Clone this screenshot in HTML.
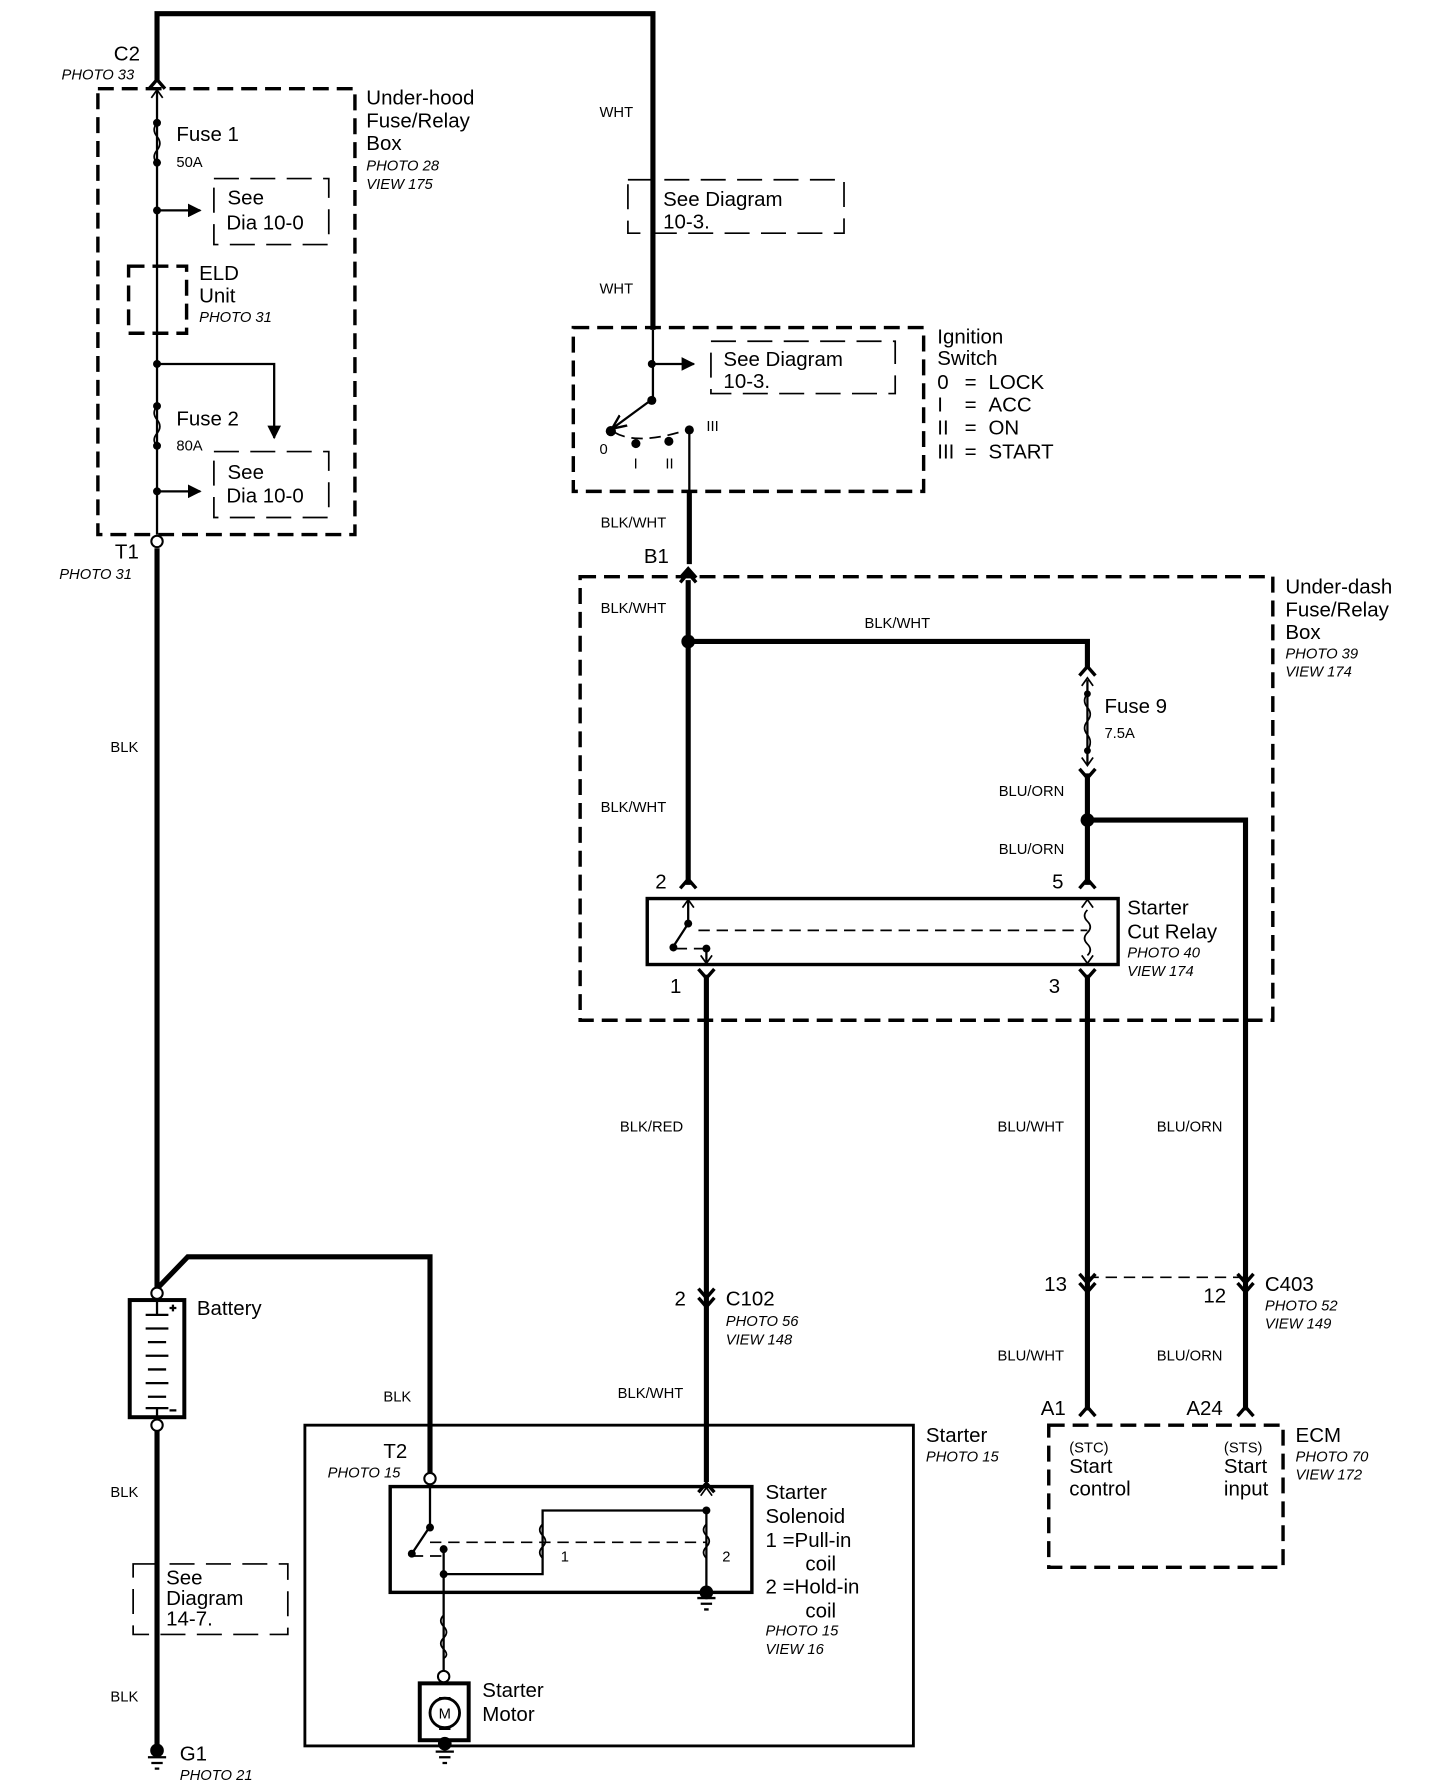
<!DOCTYPE html>
<html><head><meta charset="utf-8"><style>
html,body{margin:0;padding:0;background:#fff;}
svg{display:block;}
text{font-family:"Liberation Sans",Arial,sans-serif;fill:#000;}
.L{font-size:18px;}
.S{font-size:13px;}
.I{font-size:13px;font-style:italic;}
</style></head><body>
<svg width="1456" height="1788" viewBox="0 0 1280 1572" xmlns="http://www.w3.org/2000/svg">
<defs>
<marker id="ar" viewBox="0 0 10 10" refX="9" refY="5" markerWidth="6" markerHeight="6" orient="auto"><path d="M0,0L10,5L0,10z"/></marker>
<marker id="oa" viewBox="0 0 10 10" refX="9" refY="5" markerWidth="7" markerHeight="7" orient="auto"><path d="M0,1L9,5L0,9" fill="none" stroke="#000" stroke-width="1.5"/></marker>
</defs>
<g fill="none" stroke="#000">
<g stroke-width="3" stroke-dasharray="14,7">
<rect x="86" y="78" width="226" height="392"/>
<rect x="113" y="234" width="51" height="59"/>
<rect x="504" y="288" width="308" height="144"/>
<rect x="510" y="507" width="609" height="390"/>
<rect x="922" y="1253" width="206" height="125"/>
</g>
<g stroke-width="1.5" stroke-dasharray="22,10">
<rect x="188" y="157" width="101" height="58"/>
<rect x="188" y="397" width="101" height="58"/>
<rect x="552" y="158" width="190" height="47"/>
<rect x="625" y="300" width="162" height="46"/>
<rect x="117" y="1375" width="136" height="62"/>
</g>
<g stroke-width="4.5">
<path d="M138,72 V12 H574 V290"/>
<path d="M138,482 V1133 L165,1105 H378 V1296"/>
<path d="M138,1258 V1535"/>
<path d="M606,432 V496"/>
<path d="M605,510 V778"/>
<path d="M605,564 H956 V588"/>
<path d="M956,680 V778"/>
<path d="M956,721 H1095 V1240"/>
<path d="M621,857 V1303"/>
<path d="M956,857 V1240"/>
</g>
<g stroke-width="2">
<path d="M138,78 V470"/>
<path d="M138,320 H241 V385" marker-end="url(#ar)"/>
<path d="M138,185 H176" marker-end="url(#ar)"/>
<path d="M138,432 H176" marker-end="url(#ar)"/>
<path d="M574,290 V352"/>
<path d="M573,320 H610" marker-end="url(#ar)"/>
<path d="M572,352 L538,377" marker-end="url(#oa)"/>
<path d="M606,378 V432"/>
<path d="M956,598 V672"/>
<path d="M378,1306 V1342 L362,1366"/>
<path d="M390,1362 V1475"/>
<path d="M390,1384 H477 V1328 H621 V1400"/>
<path d="M605,792 V812 L592,832"/>
<path d="M621,832 V848"/>
</g>
<g stroke-width="1.5" stroke-dasharray="10,6">
<path d="M540,380 Q560,392 604,378"/>
<path d="M614,818 H956"/>
<path d="M378,1356 H621"/>
<path d="M362,1368 H390"/>
<path d="M594,834 H621"/>
<path d="M956,1123 H1095"/>
</g>
<g stroke-width="1.5">
<path d="M138,108 q-5,6 0,12 q5,6 0,12 q-5,6 0,11"/>
<path d="M138,357 q-5,6 0,12 q5,6 0,12 q-5,6 0,11"/>
<path d="M956,610 q-5,6 0,12 q5,6 0,12 q-5,6 0,12 q5,6 0,14"/>
<path d="M956,800 q-5,5 0,10 q5,5 0,10 q-5,5 0,10 q5,5 0,10"/>
<path d="M477,1340 q-5,5 0,10 q5,5 0,10 q-5,5 0,10"/>
<path d="M621,1340 q-5,5 0,10 q5,5 0,10 q-5,5 0,10"/>
<path d="M390,1420 q-5,5 0,10 q5,5 0,10 q-5,5 0,10 q5,5 0,8"/>
</g>
<rect x="569" y="790" width="414" height="58" stroke-width="3"/>
<rect x="343" y="1307" width="318" height="93" stroke-width="3"/>
<rect x="268" y="1253" width="535" height="282" stroke-width="2.5"/>
<rect x="114" y="1143" width="48" height="103" stroke-width="3.5"/>
<rect x="369" y="1480" width="43" height="50" stroke-width="3.5"/>
<circle cx="391" cy="1506" r="13" stroke-width="2.5"/>
<g stroke-width="3">
<path d="M131,78 L138,70 L145,78"/>
<path d="M598,508 L605,500 L612,508"/>
<path d="M598,512 L605,504 L612,512"/>
<path d="M598,781 L605,773 L612,781"/>
<path d="M949,781 L956,773 L963,781"/>
<path d="M949,594 L956,586 L963,594"/>
<path d="M614,852 L621,860 L628,852"/>
<path d="M949,852 L956,860 L963,852"/>
<path d="M949,676 L956,684 L963,676"/>
<path d="M614,1133 L621,1141 L628,1133"/>
<path d="M614,1141 L621,1149 L628,1141"/>
<path d="M949,1120 L956,1128 L963,1120"/>
<path d="M949,1128 L956,1136 L963,1128"/>
<path d="M1088,1120 L1095,1128 L1102,1120"/>
<path d="M1088,1128 L1095,1136 L1102,1128"/>
<path d="M949,1245 L956,1237 L963,1245"/>
<path d="M1088,1245 L1095,1237 L1102,1245"/>
<path d="M614,1312 L621,1304 L628,1312"/>
</g>
<g stroke-width="1.5">
<path d="M600,798 L605,791 L610,798"/><path d="M951,798 L956,791 L961,798"/>
<path d="M616,840 L621,847 L626,840"/><path d="M951,840 L956,847 L961,840"/>
<path d="M951,603 L956,596 L961,603"/><path d="M951,666 L956,673 L961,666"/>
<path d="M616,1315 L621,1308 L626,1315"/>
<path d="M133,86 L138,79 L143,86"/>
</g>
<g stroke-width="2">
<path d="M138,1143 V1156 M128,1156 H148 M128,1168 H148 M130,1180 H146 M128,1192 H148 M130,1204 H146 M128,1216 H148 M130,1228 H146 M128,1238 H148 M138,1238 V1246 M149,1150 h6 M152,1147 v6 M149,1240 h6"/>
</g>
<g stroke-width="2">
<path d="M130,1545 H146 M133,1550 H143 M136,1555 H140"/>
<path d="M613,1405 H629 M616,1410 H626 M619,1415 H623"/>
<path d="M383,1540 H399 M386,1545 H396 M389,1550 H393"/>
<path d="M386,1493 h10 M386,1520 h10"/>
</g>
<g fill="#fff" stroke-width="1.8">
<circle cx="138" cy="476" r="5"/>
<circle cx="138" cy="1137" r="5"/>
<circle cx="138" cy="1253" r="5"/>
<circle cx="378" cy="1300" r="5"/>
<circle cx="390" cy="1474" r="5"/>
</g>
</g>
<g fill="#000">
<circle cx="138" cy="108" r="3.5"/><circle cx="138" cy="143" r="3.5"/>
<circle cx="138" cy="185" r="3.5"/><circle cx="138" cy="320" r="3.5"/>
<circle cx="138" cy="357" r="3.5"/><circle cx="138" cy="392" r="3.5"/>
<circle cx="138" cy="432" r="3.5"/>
<circle cx="573" cy="320" r="3.5"/><circle cx="573" cy="352" r="4"/>
<circle cx="537" cy="379" r="4.5"/><circle cx="559" cy="390" r="4"/><circle cx="588" cy="388" r="4"/><circle cx="606" cy="378" r="4"/>
<circle cx="605" cy="564" r="6"/><circle cx="956" cy="721" r="6"/>
<circle cx="956" cy="610" r="3"/><circle cx="956" cy="660" r="3"/>
<circle cx="605" cy="812" r="3.5"/><circle cx="592" cy="833" r="3.5"/><circle cx="621" cy="834" r="3.5"/>
<circle cx="378" cy="1343" r="3.5"/><circle cx="362" cy="1366" r="3.5"/><circle cx="390" cy="1362" r="3.5"/>
<circle cx="390" cy="1384" r="3.5"/><circle cx="621" cy="1328" r="3.5"/>
<circle cx="621" cy="1400" r="6"/><circle cx="138" cy="1539" r="6"/><circle cx="391" cy="1533" r="6"/>
</g>
<text class="L" x="100" y="53">C2</text><text class="I" x="54" y="70">PHOTO 33</text>
<text class="L" x="155" y="124">Fuse 1</text><text class="S" x="155" y="147">50A</text>
<text class="L" x="200" y="180">See</text><text class="L" x="199" y="202">Dia 10-0</text>
<text class="L" x="175" y="246">ELD</text><text class="L" x="175" y="266">Unit</text><text class="I" x="175" y="283">PHOTO 31</text>
<text class="L" x="155" y="374">Fuse 2</text><text class="S" x="155" y="396">80A</text>
<text class="L" x="200" y="421">See</text><text class="L" x="199" y="442">Dia 10-0</text>
<text class="L" x="322" y="92">Under-hood</text><text class="L" x="322" y="112">Fuse/Relay</text><text class="L" x="322" y="132">Box</text>
<text class="I" x="322" y="150">PHOTO 28</text><text class="I" x="322" y="166">VIEW 175</text>
<text class="L" x="101" y="491">T1</text><text class="I" x="52" y="509">PHOTO 31</text>
<text class="S" x="97" y="661">BLK</text>
<text class="S" x="527" y="103">WHT</text><text class="S" x="527" y="258">WHT</text>
<text class="L" x="583" y="181">See Diagram</text><text class="L" x="583" y="201">10-3.</text>
<text class="L" x="636" y="322">See Diagram</text><text class="L" x="636" y="341">10-3.</text>
<text class="S" x="527" y="399">0</text><text class="S" x="557" y="412">I</text><text class="S" x="585" y="412">II</text><text class="S" x="621" y="379">III</text>
<text class="L" x="824" y="302">Ignition</text><text class="L" x="824" y="321">Switch</text>
<text class="L" x="824" y="342">0</text><text class="L" x="848" y="342">=</text><text class="L" x="869" y="342">LOCK</text>
<text class="L" x="824" y="362">I</text><text class="L" x="848" y="362">=</text><text class="L" x="869" y="362">ACC</text>
<text class="L" x="824" y="382">II</text><text class="L" x="848" y="382">=</text><text class="L" x="869" y="382">ON</text>
<text class="L" x="824" y="403">III</text><text class="L" x="848" y="403">=</text><text class="L" x="869" y="403">START</text>
<text class="S" x="528" y="464">BLK/WHT</text><text class="L" x="566" y="495">B1</text>
<text class="S" x="528" y="539">BLK/WHT</text><text class="S" x="760" y="552">BLK/WHT</text>
<text class="S" x="528" y="714">BLK/WHT</text>
<text class="L" x="971" y="627">Fuse 9</text><text class="S" x="971" y="649">7.5A</text>
<text class="S" x="878" y="700">BLU/ORN</text><text class="S" x="878" y="751">BLU/ORN</text>
<text class="L" x="1130" y="522">Under-dash</text><text class="L" x="1130" y="542">Fuse/Relay</text><text class="L" x="1130" y="562">Box</text>
<text class="I" x="1130" y="579">PHOTO 39</text><text class="I" x="1130" y="595">VIEW 174</text>
<text class="L" x="576" y="781">2</text><text class="L" x="925" y="781">5</text>
<text class="L" x="589" y="873">1</text><text class="L" x="922" y="873">3</text>
<text class="L" x="991" y="804">Starter</text><text class="L" x="991" y="825">Cut Relay</text>
<text class="I" x="991" y="842">PHOTO 40</text><text class="I" x="991" y="858">VIEW 174</text>
<text class="S" x="545" y="995">BLK/RED</text><text class="S" x="877" y="995">BLU/WHT</text><text class="S" x="1017" y="995">BLU/ORN</text>
<text class="L" x="918" y="1135">13</text><text class="L" x="1058" y="1145">12</text>
<text class="L" x="1112" y="1135">C403</text><text class="I" x="1112" y="1152">PHOTO 52</text><text class="I" x="1112" y="1168">VIEW 149</text>
<text class="S" x="877" y="1196">BLU/WHT</text><text class="S" x="1017" y="1196">BLU/ORN</text>
<text class="L" x="915" y="1244">A1</text><text class="L" x="1043" y="1244">A24</text>
<text class="S" x="940" y="1277">(STC)</text><text class="L" x="940" y="1295">Start</text><text class="L" x="940" y="1315">control</text>
<text class="S" x="1076" y="1277">(STS)</text><text class="L" x="1076" y="1295">Start</text><text class="L" x="1076" y="1315">input</text>
<text class="L" x="1139" y="1268">ECM</text><text class="I" x="1139" y="1285">PHOTO 70</text><text class="I" x="1139" y="1301">VIEW 172</text>
<text class="L" x="593" y="1148">2</text><text class="L" x="638" y="1148">C102</text>
<text class="I" x="638" y="1166">PHOTO 56</text><text class="I" x="638" y="1182">VIEW 148</text>
<text class="S" x="543" y="1229">BLK/WHT</text>
<text class="L" x="173" y="1156">Battery</text><text class="S" x="337" y="1232">BLK</text>
<text class="S" x="97" y="1316">BLK</text>
<text class="L" x="146" y="1393">See</text><text class="L" x="146" y="1411">Diagram</text><text class="L" x="146" y="1429">14-7.</text>
<text class="S" x="97" y="1496">BLK</text>
<text class="L" x="158" y="1548">G1</text><text class="I" x="158" y="1565">PHOTO 21</text>
<text class="L" x="814" y="1268">Starter</text><text class="I" x="814" y="1285">PHOTO 15</text>
<text class="L" x="337" y="1282">T2</text><text class="I" x="288" y="1299">PHOTO 15</text>
<text class="S" x="493" y="1373">1</text><text class="S" x="635" y="1373">2</text>
<text class="L" x="673" y="1318">Starter</text><text class="L" x="673" y="1339">Solenoid</text>
<text class="L" x="673" y="1360">1 =Pull-in</text><text class="L" x="708" y="1381">coil</text>
<text class="L" x="673" y="1401">2 =Hold-in</text><text class="L" x="708" y="1422">coil</text>
<text class="I" x="673" y="1438">PHOTO 15</text><text class="I" x="673" y="1454">VIEW 16</text>
<text class="L" x="424" y="1492">Starter</text><text class="L" x="424" y="1513">Motor</text>
<text x="391" y="1511" font-size="13" text-anchor="middle">M</text>
</svg>
</body></html>
